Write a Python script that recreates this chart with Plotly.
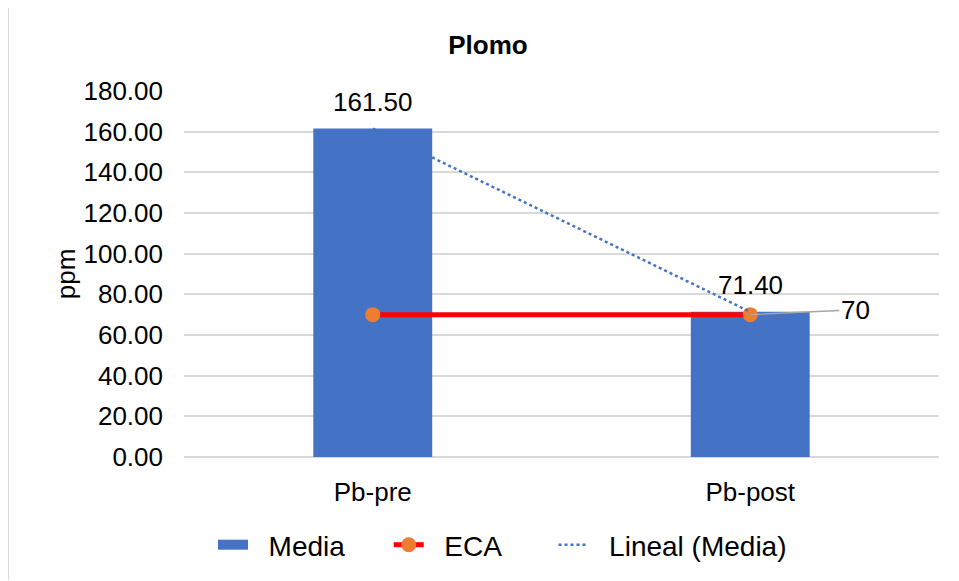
import plotly.graph_objects as go

categories = ["Pb-pre", "Pb-post"]
media = [161.50, 71.40]
eca = [70, 70]
media_labels = ["161.50", "71.40"]
eca_label = "70"
y_ticks = [0, 20, 40, 60, 80, 100, 120, 140, 160, 180]
legend_names = ["Media", "ECA", "Lineal (Media)"]

# page has an 8px body margin; figure sized to end at the window edge
O = 8
W, H = 959 - O, 581 - O
L, R = 184 - O, 20
T, B = 91 - O, 123
pw, ph = W - L - R, H - T - B


def px(x):
    return (x - O - L) / pw


def py(y):
    return (H - B - (y - O)) / ph


NB = "\u00a0"
lead = NB * 2
label_media = lead + legend_names[0] + NB * 5
label_eca = lead + legend_names[1] + NB * 6
label_trend = lead + legend_names[2]

FS = 26
LFS = 28
BLUE = "#4472C4"
fig = go.Figure()
fig.add_trace(go.Bar(
    x=categories, y=media, name=legend_names[0], showlegend=False, legendgroup="media",
    marker=dict(color=BLUE, line=dict(width=0)),
))
# legend entry for the bars drawn as a wide swatch
fig.add_trace(go.Scatter(
    x=[None], y=[None], name=label_media, mode="lines", legendgroup="media",
    line=dict(color=BLUE, width=17), hoverinfo="skip",
))
fig.add_trace(go.Scatter(
    x=categories, y=eca, name=label_eca, mode="lines+markers",
    line=dict(color="#FF0000", width=5),
    marker=dict(color="#ED7D31", size=15),
))
fig.add_trace(go.Scatter(
    x=categories, y=media, name=label_trend, mode="lines",
    line=dict(color=BLUE, width=2.5, dash="dot"),
))

for c, v, t in zip(categories, media, media_labels):
    fig.add_annotation(x=c, y=v, text=t, showarrow=False, yanchor="bottom",
                       yshift=10, font=dict(size=FS, color="#000000"))

fig.add_annotation(
    x=categories[1], y=eca[1], text=eca_label, showarrow=True,
    arrowhead=0, arrowwidth=1.5, arrowcolor="#A6A6A6",
    ax=105, ay=-5, font=dict(size=FS, color="#000000"),
)

# chart border (only top and left edges are visible in the window)
fig.add_shape(type="line", xref="paper", yref="paper",
              x0=px(8), x1=px(959), y0=py(6), y1=py(6),
              line=dict(color="#D9D9D9", width=2), layer="below")
fig.add_shape(type="line", xref="paper", yref="paper",
              x0=px(8), x1=px(8), y0=py(6), y1=py(581),
              line=dict(color="#D9D9D9", width=2), layer="below")

fig.update_layout(
    width=W, height=H,
    margin=dict(l=L, r=R, t=T, b=B),
    paper_bgcolor="white", plot_bgcolor="white",
    font=dict(family="Liberation Sans, Arial, sans-serif", size=FS, color="#000000"),
    title=dict(text="<b>Plomo</b>", x=px(488), xref="paper", xanchor="center",
               y=1 - (45 - O) / H, yanchor="middle", font=dict(size=FS)),
    bargap=0.685,
    showlegend=True,
    legend=dict(orientation="h", x=px(213), xanchor="left", y=py(545), yanchor="middle",
                font=dict(size=LFS), itemwidth=30, traceorder="normal"),
    xaxis=dict(showgrid=False, showline=False, ticks="", tickfont=dict(size=FS),
               ticklabelstandoff=17),
    yaxis=dict(range=[0, 180], tickvals=y_ticks, tickformat=".2f",
               gridcolor="#D9D9D9", gridwidth=1.5, zeroline=True, zerolinecolor="#D9D9D9",
               zerolinewidth=1.5, showline=False, ticks="", tickfont=dict(size=FS),
               ticklabelstandoff=20,
               title=dict(text="ppm", font=dict(size=FS), standoff=0)),
)

fig.write_html("out.html")
